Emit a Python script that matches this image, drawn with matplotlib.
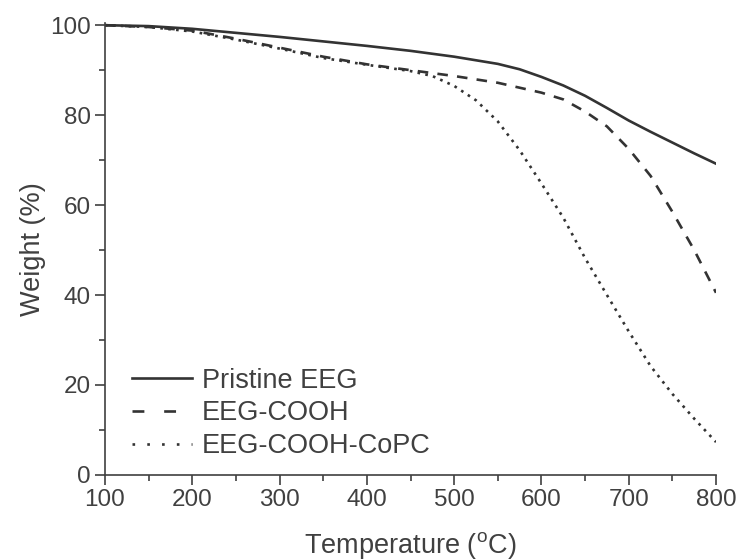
import matplotlib
matplotlib.use("Agg")
import matplotlib.pyplot as plt
from matplotlib.lines import Line2D
from matplotlib.ticker import MultipleLocator

plt.rcParams['font.family'] = ['Liberation Sans', 'DejaVu Sans']
plt.rcParams['mathtext.fontset'] = 'custom'
plt.rcParams['mathtext.rm'] = 'Liberation Sans'

# TGA curves
temp_pristine = [100, 150, 200, 250, 300, 350, 400, 450, 500, 550, 575, 600, 625, 650, 675, 700, 725, 750, 775, 800]
w_pristine = [100, 99.8, 99.2, 98.3, 97.4, 96.4, 95.4, 94.3, 93.0, 91.4, 90.2, 88.5, 86.6, 84.3, 81.6, 78.8, 76.3, 73.9, 71.5, 69.2]

temp_cooh = [100, 150, 200, 250, 300, 350, 400, 450, 500, 550, 600, 625, 650, 675, 700, 725, 750, 775, 800]
w_cooh = [100, 99.6, 98.8, 97.0, 95.0, 93.0, 91.3, 90.0, 88.7, 87.2, 85.0, 83.5, 80.8, 77.5, 72.5, 66.5, 58.5, 50.0, 40.5]

temp_copc = [100, 150, 200, 250, 300, 350, 400, 450, 475, 500, 525, 550, 575, 600, 625, 650, 675, 700, 725, 750, 775, 800]
w_copc = [100, 99.6, 98.6, 96.8, 94.8, 92.7, 91.2, 89.8, 88.7, 86.5, 83.3, 78.6, 72.2, 64.8, 57.2, 48.2, 40.0, 31.9, 24.2, 18.0, 12.5, 7.3]

labels = ['Pristine EEG', 'EEG-COOH', 'EEG-COOH-CoPC']

ink = '#333333'
txt = '#404040'

fig = plt.figure(figsize=(7.42, 5.6), dpi=100)
ax = fig.add_axes([0.1415, 0.152, 0.8235, 0.807])

ax.plot(temp_pristine, w_pristine, color=ink, lw=1.9)
ax.plot(temp_cooh, w_cooh, color=ink, lw=1.9, dashes=(4, 3.5))
ax.plot(temp_copc, w_copc, color=ink, lw=1.9, dashes=(1, 2))

ax.set_xlim(100, 800)
ax.set_ylim(0, 100.5)
ax.xaxis.set_major_locator(MultipleLocator(100))
ax.xaxis.set_minor_locator(MultipleLocator(50))
ax.yaxis.set_major_locator(MultipleLocator(20))
ax.yaxis.set_minor_locator(MultipleLocator(10))

for s in ['top', 'right']:
    ax.spines[s].set_visible(False)
for s in ['left', 'bottom']:
    ax.spines[s].set_color(txt)
    ax.spines[s].set_linewidth(1.2)

ax.tick_params(which='major', direction='out', length=7, width=1.2, color=txt,
               labelsize=17.5, labelcolor=txt, pad=3)
ax.tick_params(which='minor', direction='out', length=4, width=1.2, color=txt)

ax.set_xlabel(r'Temperature ($^\mathregular{o}$C)', fontsize=19.5, color=txt, labelpad=14)
ax.set_ylabel('Weight (%)', fontsize=19.5, color=txt, labelpad=3)

# legend keys drawn with the sparser patterns used in the original legend
handles = [Line2D([], [], color=ink, lw=1.9),
           Line2D([], [], color=ink, lw=1.9, dashes=(4.5, 7.5)),
           Line2D([], [], color=ink, lw=1.9, dashes=(1, 4.6))]
leg = ax.legend(handles, labels, loc='lower left', bbox_to_anchor=(0.045, 0.035),
                frameon=False, fontsize=19.5, handlelength=2.2, handletextpad=0.35,
                labelspacing=0.25, borderaxespad=0, borderpad=0)
for t in leg.get_texts():
    t.set_color(txt)

fig.savefig('out.png', dpi=100)
